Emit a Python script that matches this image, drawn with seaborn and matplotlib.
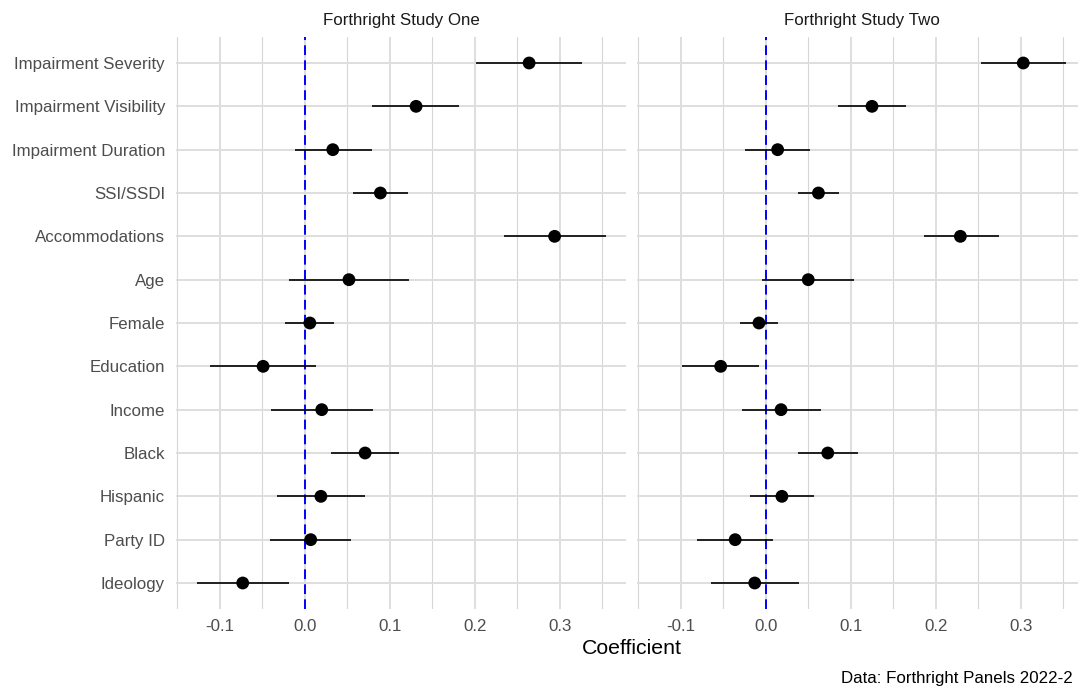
import numpy as np
import pandas as pd
import matplotlib
matplotlib.use("Agg")
import matplotlib.pyplot as plt
import seaborn as sns
from matplotlib.ticker import FixedLocator, FormatStrFormatter

# ---------------- data ----------------
terms = ["Impairment Severity", "Impairment Visibility", "Impairment Duration",
         "SSI/SSDI", "Accommodations", "Age", "Female", "Education", "Income",
         "Black", "Hispanic", "Party ID", "Ideology"]
studies = ["Forthright Study One", "Forthright Study Two"]

est_one = [0.264, 0.131, 0.033, 0.089, 0.294, 0.052, 0.006, -0.049, 0.020,
           0.071, 0.019, 0.007, -0.073]
low_one = [0.202, 0.079, -0.011, 0.057, 0.235, -0.018, -0.023, -0.112, -0.040,
           0.031, -0.033, -0.041, -0.127]
high_one = [0.326, 0.182, 0.079, 0.122, 0.354, 0.123, 0.034, 0.013, 0.080,
            0.111, 0.071, 0.054, -0.018]

est_two = [0.303, 0.125, 0.014, 0.062, 0.229, 0.050, -0.008, -0.053, 0.018,
           0.073, 0.019, -0.036, -0.013]
low_two = [0.253, 0.085, -0.024, 0.038, 0.186, -0.005, -0.030, -0.098, -0.028,
           0.038, -0.019, -0.081, -0.065]
high_two = [0.353, 0.165, 0.052, 0.086, 0.274, 0.104, 0.014, -0.008, 0.065,
            0.108, 0.057, 0.009, 0.039]

x_ticks = [-0.1, 0.0, 0.1, 0.2, 0.3]
x_minor = [-0.15, -0.05, 0.05, 0.15, 0.25, 0.35]
x_title = "Coefficient"
caption = "Data: Forthright Panels 2022-2"

df = pd.concat([
    pd.DataFrame({"term": terms, "estimate": est_one, "low": low_one,
                  "high": high_one, "study": studies[0]}),
    pd.DataFrame({"term": terms, "estimate": est_two, "low": low_two,
                  "high": high_two, "study": studies[1]}),
], ignore_index=True)
df["ypos"] = df["term"].map({t: i for i, t in enumerate(terms)})

# ---------------- style ----------------
sns.set_theme(style="white")
plt.rcParams["font.family"] = ["Liberation Sans", "DejaVu Sans"]

W, H = 1078, 688
fig = plt.figure(figsize=(W / 100, H / 100), dpi=100)
fig.patch.set_facecolor("white")


def pos(l, r, t, b):
    return [l / W, 1 - b / H, (r - l) / W, (b - t) / H]


panels = [(176, 626), (637, 1087)]
top, bottom = 37, 609
xlim = (-0.1515, 0.378)

for k, (study, (l, r)) in enumerate(zip(studies, panels)):
    ax = fig.add_axes(pos(l, r, top, bottom))
    sub = df[df["study"] == study]
    ax.set_axisbelow(True)
    ax.axvline(0, color="#0000FF", lw=1.4, ls=(0, (5, 2.7)), zorder=2)
    ax.hlines(sub["ypos"], sub["low"], sub["high"], color="black", lw=1.2,
              zorder=3)
    sns.scatterplot(data=sub, x="estimate", y="ypos", ax=ax, color="black",
                    s=85, edgecolor="none", zorder=4, legend=False)
    ax.set_xlim(*xlim)
    ax.set_ylim(len(terms) - 0.4, -0.6)
    ax.xaxis.set_major_locator(FixedLocator(x_ticks))
    ax.xaxis.set_minor_locator(FixedLocator(x_minor))
    ax.xaxis.set_major_formatter(FormatStrFormatter("%.1f"))
    ax.set_yticks(range(len(terms)))
    if k == 0:
        ax.set_yticklabels(terms)
    else:
        ax.set_yticklabels([])
    ax.grid(which="major", axis="both", color="#dedede", lw=1.4)
    ax.grid(which="minor", axis="x", color="#d6d6d6", lw=0.8)
    for s in ax.spines.values():
        s.set_visible(False)
    ax.tick_params(axis="both", which="both", length=0, labelsize=12.2,
                   labelcolor="#4D4D4D")
    ax.tick_params(axis="y", pad=7.9)
    ax.tick_params(axis="x", pad=7)
    ax.set_xlabel("")
    ax.set_ylabel("")
    fig.text((l + r) / 2 / W, 1 - 21 / H, study, ha="center", va="center",
             fontsize=12.2, color="#1A1A1A")

fig.text((176 + 1087) / 2 / W, 1 - 648 / H, x_title, ha="center",
         va="center", fontsize=15.3, color="black")
fig.text(1073 / W, 1 - 678 / H, caption, ha="right", va="center",
         fontsize=12.2, color="black")

fig.savefig("out.png", dpi=100, facecolor="white")
